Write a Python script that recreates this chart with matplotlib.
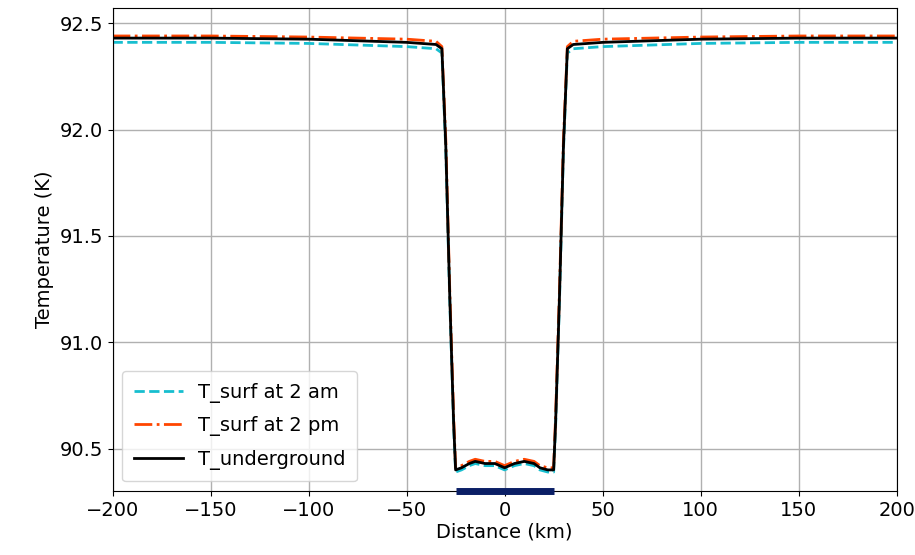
import matplotlib
matplotlib.use("Agg")
import matplotlib.pyplot as plt

dist = [-200, -150, -100, -50, -35, -32, -30, -28, -26, -25, -22, -18, -15, -10, -5, 0, 5, 10, 15, 18, 22, 25, 26, 28, 30, 32, 35, 50, 100, 150, 200]
t_am = [92.41, 92.41, 92.405, 92.39, 92.38, 92.36, 91.9, 91.2, 90.6, 90.39, 90.40, 90.42, 90.43, 90.42, 90.42, 90.40, 90.42, 90.43, 90.42, 90.40, 90.39, 90.39, 90.6, 91.2, 91.9, 92.36, 92.38, 92.39, 92.405, 92.41, 92.41]
t_pm = [92.44, 92.44, 92.435, 92.425, 92.415, 92.39, 91.95, 91.25, 90.65, 90.41, 90.42, 90.44, 90.45, 90.44, 90.44, 90.42, 90.44, 90.45, 90.44, 90.42, 90.41, 90.41, 90.65, 91.25, 91.95, 92.39, 92.415, 92.425, 92.435, 92.44, 92.44]
t_ug = [92.43, 92.43, 92.425, 92.41, 92.40, 92.38, 91.92, 91.22, 90.62, 90.40, 90.41, 90.43, 90.44, 90.43, 90.43, 90.41, 90.43, 90.44, 90.43, 90.41, 90.40, 90.40, 90.62, 91.22, 91.92, 92.38, 92.40, 92.41, 92.425, 92.43, 92.43]
bar_span = [-25, 25]

fig, ax = plt.subplots(figsize=(9.15, 5.55), dpi=100)
ax.plot(dist, t_am, "--", color="#17becf", lw=2, label="T_surf at 2 am")
ax.plot(dist, t_pm, "-.", color="#ff4500", lw=2, label="T_surf at 2 pm")
ax.plot(dist, t_ug, "-", color="black", lw=2, label="T_underground")
ax.plot(bar_span, [90.30, 90.30], color="#0b1f66", lw=5, solid_capstyle="butt", clip_on=False, zorder=5)
ax.set_xlim(-200, 200)
ax.set_ylim(90.30, 92.57)
ax.set_yticks([90.5, 91.0, 91.5, 92.0, 92.5])
ax.grid(True, color="#b0b0b0", lw=1)
ax.tick_params(labelsize=14)
ax.set_xlabel("Distance (km)", fontsize=14, labelpad=2)
ax.set_ylabel("Temperature (K)", fontsize=14)
ax.legend(loc="lower left", fontsize=14, handlelength=2.5, borderpad=0.6, labelspacing=0.7)
fig.subplots_adjust(left=0.123, right=0.98, top=0.985, bottom=0.115)
fig.savefig("out.png")
